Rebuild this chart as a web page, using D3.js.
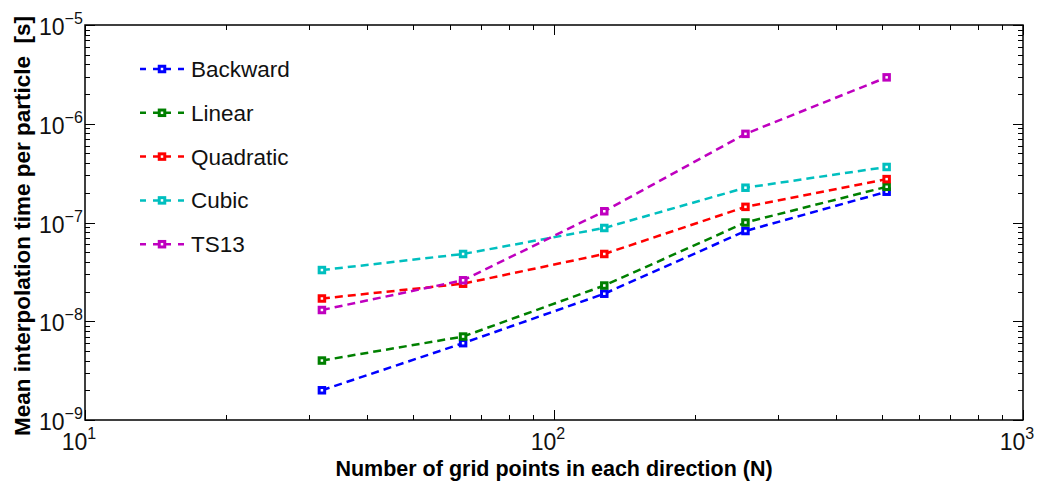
<!DOCTYPE html>
<html>
<head>
<meta charset="utf-8">
<script src="https://cdn.jsdelivr.net/npm/d3@7"></script>
<style>
  body { margin: 0; background: #fff; }
  text { font-family: "Liberation Sans", Arial, sans-serif; }
</style>
</head>
<body>
<div id="canvas"></div>
<script>
"use strict"

// data
let gridN = [32, 64, 128, 256, 512];
let seriesNames = ["Backward", "Linear", "Quadratic", "Cubic", "TS13"];
let seriesColors = ["#0000ff", "#008000", "#ff0000", "#00bfbf", "#bf00bf"];
let backwardTimes = [2.0e-9, 6.0e-9, 1.9e-8, 8.2e-8, 2.05e-7];
let linearTimes = [4.0e-9, 7.0e-9, 2.3e-8, 1.0e-7, 2.3e-7];
let quadraticTimes = [1.7e-8, 2.4e-8, 4.8e-8, 1.44e-7, 2.75e-7];
let cubicTimes = [3.3e-8, 4.8e-8, 8.8e-8, 2.25e-7, 3.65e-7];
let ts13Times = [1.3e-8, 2.6e-8, 1.3e-7, 7.9e-7, 2.95e-6];
let xTicks = [10, 100, 1000];
let yTicks = [1e-9, 1e-8, 1e-7, 1e-6, 1e-5];

let allSeries = [backwardTimes, linearTimes, quadraticTimes, cubicTimes, ts13Times];

let drawing = d3.select("#canvas")
    .append("svg")
    .attr("width", 1041)
    .attr("height", 483);

let plotLeft = 85, plotRight = 1023, plotTop = 25, plotBottom = 420;

let x = d3.scaleLog().domain([10, 1000]).range([plotLeft, plotRight]);
let y = d3.scaleLog().domain([1e-9, 1e-5]).range([plotBottom, plotTop]);

// minor ticks 2..9 in each decade
function minorTicks(lo, hi) {
    let out = [];
    for (let d = lo; d < hi; d *= 10) {
        for (let k = 2; k <= 9; k++) out.push(d * k);
    }
    return out;
}
let xMinor = minorTicks(10, 1000);
let yMinor = minorTicks(1e-9, 1e-5);

// inward ticks on all four sides
let ticks = drawing.append("g").attr("stroke", "black").attr("stroke-width", 1);
xTicks.concat(xMinor).forEach(function (v) {
    let len = xTicks.includes(v) ? 10 : 5;
    let px = Math.round(x(v)) + 0.5;
    ticks.append("line").attr("x1", px).attr("x2", px).attr("y1", plotBottom).attr("y2", plotBottom - len);
    ticks.append("line").attr("x1", px).attr("x2", px).attr("y1", plotTop).attr("y2", plotTop + len);
});
yTicks.concat(yMinor).forEach(function (v) {
    let len = yTicks.includes(v) ? 10 : 5;
    let py = Math.round(y(v)) + 0.5;
    ticks.append("line").attr("x1", plotLeft).attr("x2", plotLeft + len).attr("y1", py).attr("y2", py);
    ticks.append("line").attr("x1", plotRight).attr("x2", plotRight - len).attr("y1", py).attr("y2", py);
});

// frame
drawing.append("rect")
    .attr("x", plotLeft)
    .attr("y", plotTop)
    .attr("width", plotRight - plotLeft)
    .attr("height", plotBottom - plotTop)
    .attr("fill", "none")
    .attr("stroke", "black")
    .attr("stroke-width", 1.5);

// tick labels: 10 with superscript exponent
function powerLabel(g, v) {
    let e = Math.round(Math.log10(v));
    g.append("tspan").text("10");
    g.append("tspan").attr("dy", -11).attr("font-size", 16).text(e < 0 ? "\u2212" + (-e) : String(e));
}
xTicks.forEach(function (v) {
    let t = drawing.append("text")
        .attr("x", x(v) - 6)
        .attr("y", 450)
        .attr("text-anchor", "middle")
        .attr("font-size", 23)
        .attr("fill", "#111");
    powerLabel(t, v);
});
yTicks.forEach(function (v) {
    let t = drawing.append("text")
        .attr("x", 39)
        .attr("y", y(v) + 10)
        .attr("font-size", 23)
        .attr("fill", "#111");
    powerLabel(t, v);
});

// axis titles
drawing.append("text")
    .attr("x", 554)
    .attr("y", 476)
    .attr("text-anchor", "middle")
    .attr("font-size", 21.5)
    .attr("font-weight", "bold")
    .text("Number of grid points in each direction (N)");

drawing.append("text")
    .attr("transform", "translate(30,226) rotate(-90)")
    .attr("text-anchor", "middle")
    .attr("font-size", 22.5)
    .attr("font-weight", "bold")
    .attr("xml:space", "preserve")
    .text("Mean interpolation time per particle  [s]");

// series lines and markers
let line = d3.line()
    .x(function (d, i) { return x(gridN[i]); })
    .y(function (d) { return y(d); });

allSeries.forEach(function (vals, s) {
    drawing.append("path")
        .attr("d", line(vals))
        .attr("fill", "none")
        .attr("stroke", seriesColors[s])
        .attr("stroke-width", 2.5)
        .attr("stroke-dasharray", "8,5");
    vals.forEach(function (v, i) {
        drawing.append("rect")
            .attr("x", x(gridN[i]) - 2.75)
            .attr("y", y(v) - 2.75)
            .attr("width", 5.5)
            .attr("height", 5.5)
            .attr("fill", "white")
            .attr("stroke", seriesColors[s])
            .attr("stroke-width", 3);
    });
});

// legend
seriesNames.forEach(function (name, s) {
    let ly = 69 + s * 43.8;
    drawing.append("line")
        .attr("x1", 140).attr("x2", 184)
        .attr("y1", ly).attr("y2", ly)
        .attr("stroke", seriesColors[s])
        .attr("stroke-width", 2.5)
        .attr("stroke-dasharray", "6,7,18,7,6");
    drawing.append("rect")
        .attr("x", 162 - 2.75).attr("y", ly - 2.75)
        .attr("width", 5.5).attr("height", 5.5)
        .attr("fill", "white")
        .attr("stroke", seriesColors[s])
        .attr("stroke-width", 3);
    drawing.append("text")
        .attr("x", 191)
        .attr("y", ly + 8)
        .attr("font-size", 22.5)
        .attr("fill", "#111")
        .text(name);
});
</script>
</body>
</html>
